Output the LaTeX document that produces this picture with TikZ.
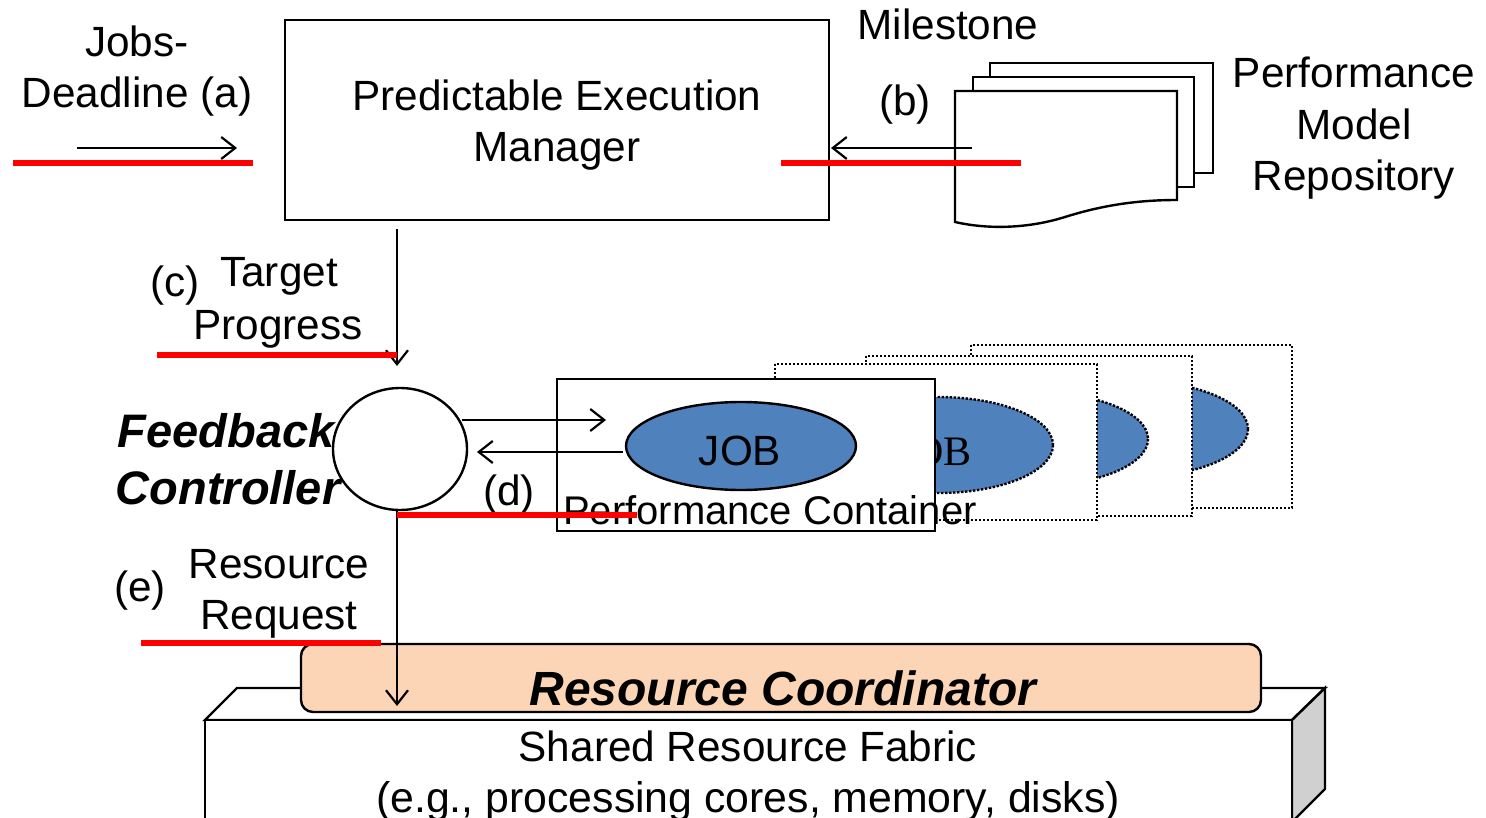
\documentclass[tikz,border=0pt]{standalone}
\usepackage{fontspec}
\setmainfont{Liberation Sans}
\newfontfamily\timesf{Liberation Serif}
\usetikzlibrary{shapes.geometric,arrows.meta}
\definecolor{jobblue}{HTML}{4F81BD}
\definecolor{rcpeach}{HTML}{FBD5B5}
\definecolor{sidegray}{HTML}{D0D0D0}
\definecolor{annred}{HTML}{FF0000}
\begin{document}
\begin{tikzpicture}[x=1pt,y=-1pt,line join=miter,
  lbl/.style={font=\fontsize{42.3}{51}\selectfont,anchor=base,inner sep=0pt},
  blbl/.style={font=\fontsize{47}{56}\selectfont\bfseries\itshape,anchor=base,inner sep=0pt},
  edge/.style={line width=2.4pt},
  conn/.style={line width=2.2pt,-{Straight Barb[length=14pt,width=22pt,line width=2.2pt]}},
  dotbox/.style={draw,fill=white,line width=2.4pt,dash pattern=on 2.4pt off 1.6pt},
  dotjob/.style={draw,fill=jobblue,line width=2.4pt,dash pattern=on 2.4pt off 1.6pt},
  redline/.style={draw=annred,line width=6pt},
]
\useasboundingbox (0,0) rectangle (1486,818);

% ---------- Predictable Execution Manager ----------
\draw[edge] (285,20) rectangle (829,220);
\node[lbl] (pem1) at (557,111) {Predictable Execution};
\node[lbl] (pem2) at (557,162) {Manager};

% (a)
\node[lbl] (jobs1) at (137,57) {Jobs-};
\node[lbl] (jobs2) at (137,108) {Deadline (a)};
\coordinate (a1) at (77,148);
\coordinate (a2) at (237,148);
\draw[conn] (a1) -- (a2);

% ---------- Performance Model Repository (document stack) ----------
\draw[edge,fill=white] (990,63) rectangle (1213,173);
\draw[edge,fill=white] (973,77) rectangle (1194,187);
\draw[edge,fill=white] (955,222) -- (955,91) -- (1177,91) -- (1177,200)
   .. controls (1135,200) and (1100,206) .. (1065,217)
   .. controls (1030,228) and (990,230) .. (955,222) -- cycle;
\node[lbl] (rep1) at (1354,88) {Performance};
\node[lbl] (rep2) at (1354,140) {Model};
\node[lbl] (rep3) at (1354,191) {Repository};
\node[lbl] (mile) at (948,40) {Milestone};
\node[lbl] (blab) at (905,116) {(b)};
\coordinate (b1) at (972,148);
\coordinate (b2) at (831,148);
\draw[conn] (b1) -- (b2);

% ---------- (c) target progress ----------
\coordinate (c1) at (397,229);
\coordinate (c2) at (397,366);
\draw[conn] (c1) -- (c2);
\node[lbl] (clab) at (175,297) {(c)};
\node[lbl] (tp1) at (279,287) {Target};
\node[lbl] (tp2) at (278,339) {Progress};

% ---------- Feedback controller ----------
\node[draw,ellipse,line width=2.4pt,minimum width=134pt,minimum height=122pt,inner sep=0pt] (fb) at (400,449) {};
\node[blbl] (fb1) at (226,447) {Feedback};
\node[blbl] (fb2) at (228,504) {Controller};

% ---------- Performance containers (stacked) ----------
\draw[dotbox] (971,345) rectangle (1292,508);
\draw[dotjob] (1133,429) ellipse [x radius=115, y radius=48];
\draw[dotbox] (866,356) rectangle (1192,516);
\draw[dotjob] (1033,439) ellipse [x radius=115, y radius=47];
\draw[dotbox] (775,364) rectangle (1097,520);
\draw[dotjob] (938,445) ellipse [x radius=115, y radius=48];
\node[font=\fontsize{42}{51}\selectfont\timesf,anchor=base,inner sep=0pt] (job1) at (934,465) {JOB};

\draw[edge,fill=white] (557,379) rectangle (935,531);
\node[draw,ellipse,fill=jobblue,line width=2.4pt,minimum width=230pt,minimum height=88pt,inner sep=0pt] (job) at (741,446) {};
\node[lbl] (jobt) at (740,465) {JOB};

% (d)
\coordinate (d1) at (462,420);
\coordinate (d2) at (606,420);
\draw[conn] (d1) -- (d2);
\coordinate (d3) at (623,452);
\coordinate (d4) at (477,452);
\draw[conn] (d3) -- (d4);
\node[lbl] (dlab) at (509,505) {(d)};
\node[font=\fontsize{40}{50}\selectfont,anchor=base,inner sep=0pt] (pc) at (770,524) {Performance Container};

% ---------- Shared Resource Fabric ----------
\draw[edge,fill=white] (205,720) -- (237,688) -- (1325,688) -- (1292,720) -- cycle;
\draw[edge,fill=sidegray] (1292,720) -- (1325,688) -- (1325,789) -- (1292,822) -- cycle;
\draw[edge,fill=white] (205,830) -- (205,720) -- (1292,720) -- (1292,830);
\node[lbl] (srf1) at (748,761) {Shared Resource Fabric};
\node[font=\fontsize{42.8}{51}\selectfont,anchor=base,inner sep=0pt] (srf2) at (748,812) {(e.g., processing cores, memory, disks)};

% ---------- Resource Coordinator ----------
\draw[edge,fill=rcpeach,rounded corners=12pt] (301,644) rectangle (1261,712);
\node[font=\fontsize{48}{56}\selectfont\bfseries\itshape,anchor=base,inner sep=0pt] (rc) at (783,705) {Resource Coordinator};

% (e)
\coordinate (e1) at (397,511);
\coordinate (e2) at (397,706);
\draw[conn] (e1) -- (e2);
\node[lbl] (elab) at (140,601) {(e)};
\node[lbl] (rr1) at (279,578) {Resource};
\node[lbl] (rr2) at (279,629) {Request};

% ---------- red annotation lines ----------
\draw[redline] (13,163) -- (253,163);
\draw[redline] (781,163) -- (1021,163);
\draw[redline] (157,355) -- (397,355);
\draw[redline] (397,515) -- (637,515);
\draw[redline] (141,643) -- (381,643);
\end{tikzpicture}
\end{document}
